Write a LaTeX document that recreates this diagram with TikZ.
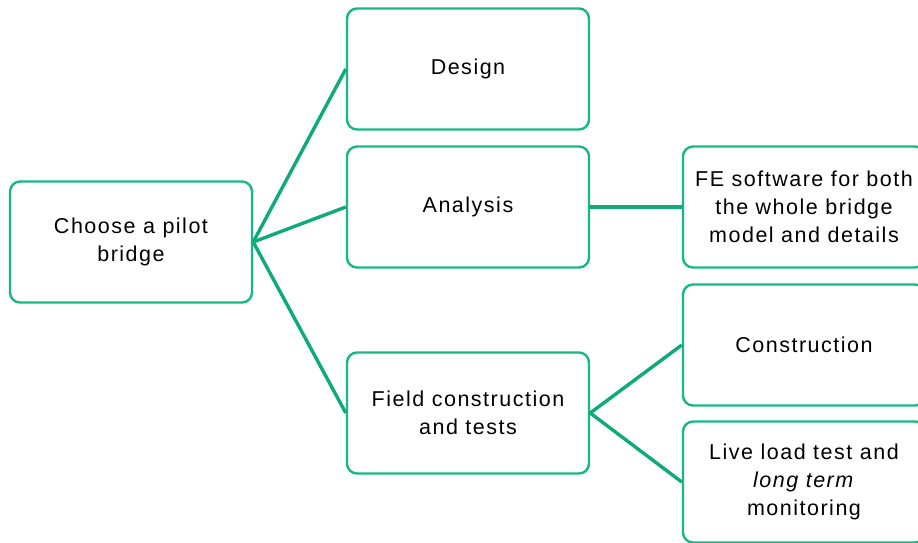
\documentclass[tikz,border=0pt]{standalone}
\usepackage{fontspec}
\setmainfont{Liberation Sans}
\usepackage{xcolor}
\usepackage{tikz}
\definecolor{pgreen}{RGB}{22, 184, 134}
\definecolor{pgreenline}{RGB}{14, 170, 122}

\begin{document}
\begin{tikzpicture}[x=1pt, y=-1pt,
    stagebox/.style={draw=pgreen, line width=2.4pt, rounded corners=10pt,
        minimum width=242pt, minimum height=121pt, inner sep=0pt,
        align=center, font=\fontsize{21.5}{28}\selectfont\addfontfeature{LetterSpace=7}},
    link/.style={draw=pgreenline, line width=3.4pt}]
\clip (0,0) rectangle (918,542);
% Root
\node[stagebox] (pilot) at (131,242) {Choose a pilot\\bridge};
% Main stages
\node[stagebox] (design) at (468,69) {Design};
\node[stagebox] (analysis) at (468,207) {Analysis};
\node[stagebox] (field) at (468,413) {Field construction\\and tests};
% Details
\node[stagebox] (fesoft) at (804,207) {FE software for both\\the whole bridge\\model and details};
\node[stagebox] (constr) at (804,345) {Construction};
\node[stagebox] (liveload) at (804,482) {Live load test and\\\textit{long term}\\monitoring};

% Connections
\draw[link] (pilot.east) -- (design.west);
\draw[link] (pilot.east) -- (analysis.west);
\draw[link] (pilot.east) -- (field.west);
\draw[link] (analysis.east) -- (fesoft.west);
\draw[link] (field.east) -- (constr.west);
\draw[link] (field.east) -- (liveload.west);
\end{tikzpicture}
\end{document}
